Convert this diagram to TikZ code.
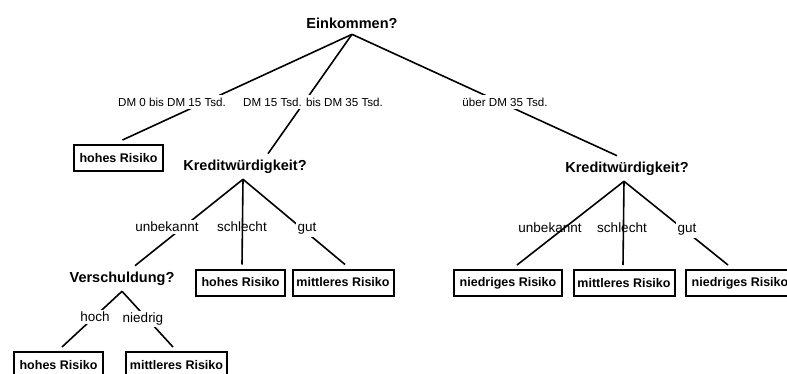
\documentclass[tikz,border=0pt]{standalone}
\usepackage{fontspec}
\setmainfont{Liberation Sans}
\begin{document}
\begin{tikzpicture}[x=1pt,y=-1pt,
  q/.style={font=\fontsize{14.5}{16}\selectfont\bfseries, inner sep=3pt, outer sep=3pt},
  leaf/.style={draw, line width=2pt, font=\fontsize{12.5}{14}\selectfont\bfseries, minimum height=26pt, inner xsep=3pt, outer sep=5pt},
  hoh/.style={leaf, minimum width=89pt},
  mit/.style={leaf, minimum width=101pt},
  nie/.style={leaf, minimum width=108pt},
  edge/.style={line width=1.6pt},
  lab/.style={font=\fontsize{11.6}{13}\selectfont, fill=white, inner sep=3pt},
  slab/.style={font=\fontsize{13.5}{15}\selectfont, fill=white, inner sep=2pt},
  tlab/.style={slab, fill=none}]
\useasboundingbox (0,0) rectangle (787,374);
% decision nodes
\node[q] (root) at (352,23) {Einkommen?};
\node[q] (K1) at (245,166.5) {Kreditwürdigkeit?};
\node[q] (K2) at (627,168.5) {Kreditwürdigkeit?};
\node[q] (V) at (122,278.5) {Verschuldung?};
% leaves
\node[hoh] (B1) at (118.5,158) {hohes Risiko};
\node[hoh] (H2) at (240.5,282.5) {hohes Risiko};
\node[mit] (M2) at (343,282.5) {mittleres Risiko};
\node[hoh] (H3) at (58.5,365) {hohes Risiko};
\node[mit] (M3) at (176.5,365) {mittleres Risiko};
\node[nie] (N1) at (508,283) {niedriges Risiko};
\node[mit] (M4) at (624,283) {mittleres Risiko};
\node[nie] (N2) at (740,283) {niedriges Risiko};
% edges
\draw[edge] (root.south) -- ([xshift=4pt]B1.north);
\draw[edge] (root.south) -- ([xshift=23pt]K1.north);
\draw[edge] (root.south) -- ([xshift=-10pt]K2.north);
\draw[edge] ([xshift=-2pt]K1.south) -- ([xshift=13pt]V.north);
\draw[edge] ([xshift=-2pt]K1.south) -- ([xshift=1.5pt]H2.north);
\draw[edge] ([xshift=-2pt]K1.south) -- ([xshift=2pt]M2.north);
\draw[edge] (V.south) -- ([xshift=3.5pt]H3.north);
\draw[edge] (V.south) -- ([xshift=-3.5pt]M3.north);
\draw[edge] ([xshift=-3pt]K2.south) -- ([xshift=9pt]N1.north);
\draw[edge] ([xshift=-3pt]K2.south) -- ([xshift=-1pt]M4.north);
\draw[edge] ([xshift=-3pt]K2.south) -- ([xshift=-12pt]N2.north);
% edge labels
\node[lab] (l1) at (172,102) {DM 0 bis DM 15 Tsd.};
\node[lab] (l2) at (313,102) {DM 15 Tsd. bis DM 35 Tsd.};
\node[lab] (l3) at (505,102) {über DM 35 Tsd.};
\node[slab] (k1u) at (167,227) {unbekannt};
\node[tlab] (k1s) at (242,227) {schlecht};
\node[slab] (k1g) at (307,229) {gut};
\node[slab] (vh) at (95,317) {hoch};
\node[slab] (vn) at (143,319) {niedrig};
\node[tlab] (k2u) at (550,228) {unbekannt};
\node[tlab] (k2s) at (622,228) {schlecht};
\node[slab] (k2g) at (687,230) {gut};
\end{tikzpicture}
\end{document}
